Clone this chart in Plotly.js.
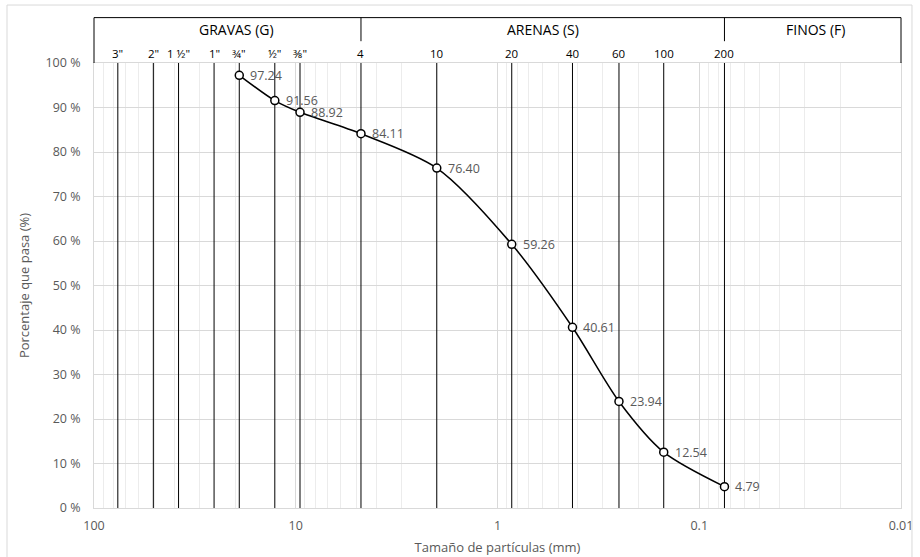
<!DOCTYPE html>
<html>
<head>
<meta charset="utf-8">
<script src="https://cdn.plot.ly/plotly-3.0.1.min.js"></script>
<style>html,body{margin:0;padding:0;background:#fff;}#chart{width:920px;height:557px;}</style>
</head>
<body>
<div id="chart"></div>
<script>
// Sieve openings (mm) and their labels
const sieveLabels = ['3"', '2"', '1 ½"', '1"', '¾"', '½"', '⅜"', '4', '10', '20', '40', '60', '100', '200'];
const sieveSizes = [76.2, 50.8, 38.1, 25.4, 19.05, 12.7, 9.525, 4.75, 2.0, 0.85, 0.425, 0.25, 0.15, 0.075];

// Granulometric curve
const pointSizes = [19.05, 12.7, 9.525, 4.75, 2.0, 0.85, 0.425, 0.25, 0.15, 0.075];
const passing = [97.24, 91.56, 88.92, 84.11, 76.40, 59.26, 40.61, 23.94, 12.54, 4.79];

// Soil groups with their size bounds (mm)
const groupNames = ['GRAVAS (G)', 'ARENAS (S)', 'FINOS (F)'];
const groupUpper = [100, 4.75, 0.075];
const groupLower = [4.75, 0.075, 0.01];

// Axis ticks
const xTickVals = [100, 10, 1, 0.1, 0.01];
const xTickText = ['100', '10', '1', '0.1', '0.01'];

const FONT = '"Open Sans", "Noto Sans", "DejaVu Sans", sans-serif';
const TXT = '#595959';

// vertical sieve lines as one trace
const lx = [], ly = [];
sieveSizes.forEach(s => { lx.push(s, s, null); ly.push(0, 100, null); });

const traces = [
  {
    x: lx, y: ly, mode: 'lines', type: 'scatter',
    line: {color: '#000000', width: 1}, hoverinfo: 'skip', showlegend: false
  },
  {
    x: pointSizes, y: passing, mode: 'lines+markers', type: 'scatter',
    line: {color: '#000000', width: 1.5, shape: 'spline', smoothing: 0.8},
    marker: {symbol: 'circle', size: 8, color: '#ffffff', line: {color: '#000000', width: 1.5}},
    showlegend: false
  }
];

const annotations = [];
// data labels to the right of each point
pointSizes.forEach((s, i) => {
  annotations.push({
    x: Math.log10(s), xref: 'x', y: passing[i], yref: 'y',
    xanchor: 'left', yanchor: 'middle', xshift: 9,
    text: passing[i].toFixed(2), showarrow: false,
    font: {family: FONT, size: 12.5, color: TXT}
  });
});
sieveLabels.forEach((lab, i) => {
  annotations.push({
    x: Math.log10(sieveSizes[i]), xref: 'x', y: 1, yref: 'paper',
    yanchor: 'bottom', xanchor: 'center', yshift: 0,
    text: lab, showarrow: false,
    font: {family: FONT, size: 11.5, color: '#000000'}
  });
});
const groupShift = [9, 0, 3];
groupNames.forEach((g, i) => {
  annotations.push({
    x: (Math.log10(groupUpper[i]) + Math.log10(groupLower[i])) / 2, xref: 'x',
    y: 1.076, yref: 'paper', yanchor: 'middle', xanchor: 'center', xshift: groupShift[i],
    text: g, showarrow: false,
    font: {family: FONT, size: 14, color: '#000000'}
  });
});

const shapes = [
  // header box: top, left, right
  {type: 'line', xref: 'paper', yref: 'paper', x0: 0, x1: 1, y0: 1.102, y1: 1.102, line: {color: '#000', width: 1}},
  {type: 'line', xref: 'paper', yref: 'paper', x0: 0, x1: 0, y0: 1.0, y1: 1.102, line: {color: '#000', width: 1}},
  {type: 'line', xref: 'paper', yref: 'paper', x0: 1, x1: 1, y0: 1.0, y1: 1.102, line: {color: '#000', width: 1}},
  // outer chart border
  {type: 'rect', xref: 'paper', yref: 'paper', x0: -0.1078, x1: 1.0136, y0: -0.12, y1: 1.1303, line: {color: '#d9d9d9', width: 1}, fillcolor: 'rgba(0,0,0,0)', layer: 'below'}
];
// group dividers
groupLower.slice(0, 2).forEach(b => {
  shapes.push({type: 'line', xref: 'x', yref: 'paper', x0: b, x1: b, y0: 1.049, y1: 1.102, line: {color: '#000', width: 1}});
});

const layout = {
  width: 920, height: 557,
  margin: {l: 94, r: 19, t: 63, b: 49},
  paper_bgcolor: '#ffffff', plot_bgcolor: '#ffffff',
  font: {family: FONT, size: 12, color: TXT},
  xaxis: {
    type: 'log', range: [2, -2], autorange: false,
    tickvals: xTickVals, ticktext: xTickText,
    showgrid: true, gridcolor: '#d9d9d9', gridwidth: 1,
    minor: {showgrid: true, gridcolor: '#ececec', gridwidth: 1, dtick: 'D1'},
    showline: true, linecolor: '#d9d9d9', mirror: true,
    ticks: '', zeroline: false,
    tickfont: {family: FONT, size: 12.5, color: TXT},
    ticklabelstandoff: 6,
    title: {text: 'Tamaño de partículas (mm)', font: {family: FONT, size: 13, color: TXT}, standoff: 9}
  },
  yaxis: {
    range: [0, 100], autorange: false, dtick: 10, ticksuffix: ' %',
    showgrid: true, gridcolor: '#d9d9d9', gridwidth: 1,
    showline: true, linecolor: '#d9d9d9', mirror: true,
    ticks: '', zeroline: false,
    tickfont: {family: FONT, size: 12.5, color: TXT},
    ticklabelstandoff: 10,
    title: {text: 'Porcentaje que pasa (%)', font: {family: FONT, size: 13, color: TXT}, standoff: 12}
  },
  annotations: annotations,
  shapes: shapes,
  showlegend: false
};

Plotly.newPlot('chart', traces, layout, {displayModeBar: false, staticPlot: true});
</script>
</body>
</html>
